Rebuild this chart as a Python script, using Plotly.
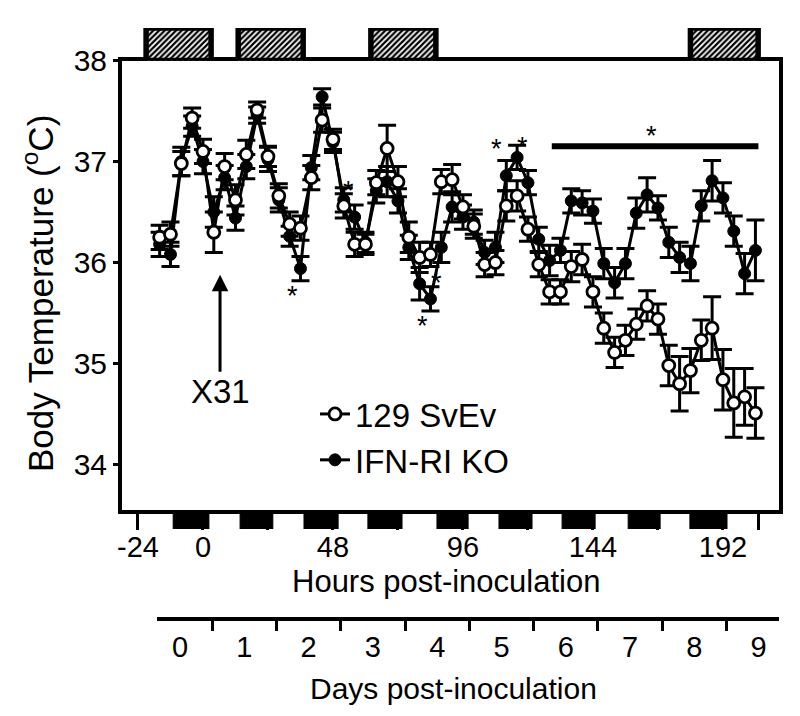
import plotly.graph_objects as go

# ---------------- data ----------------
hours = [-16, -12, -8, -4, 0, 4, 8, 12, 16, 20, 24, 28, 32, 36, 40, 44,
         48, 52, 56, 60, 64, 68, 72, 76, 80, 84, 88, 92, 96, 100, 104, 108,
         112, 116, 120, 124, 128, 132, 136, 140, 144, 148, 152, 156, 160, 164,
         168, 172, 176, 180, 184, 188, 192, 196, 200, 204]

svev = [36.25, 36.28, 36.98, 37.43, 37.10, 36.30, 36.95, 36.62,
        37.07, 37.51, 37.05, 36.66, 36.38, 36.34, 36.84, 37.41,
        37.22, 36.56, 36.18, 36.18, 36.79, 37.13, 36.80, 36.25,
        36.05, 36.08, 36.80, 36.82, 36.55, 36.36, 35.98, 36.00,
        36.56, 36.66, 36.33, 35.98, 35.71, 35.71, 35.96, 36.03,
        35.71, 35.35, 35.11, 35.23, 35.39, 35.57, 35.44, 34.98,
        34.80, 34.93, 35.23, 35.35, 34.84, 34.61, 34.67, 34.51]
svev_err = [0.12, 0.12, 0.12, 0.10, 0.12, 0.20, 0.13, 0.15,
            0.14, 0.08, 0.10, 0.12, 0.12, 0.12, 0.12, 0.12,
            0.10, 0.12, 0.12, 0.10, 0.12, 0.23, 0.15, 0.15,
            0.15, 0.12, 0.12, 0.15, 0.12, 0.12, 0.12, 0.12,
            0.15, 0.15, 0.12, 0.12, 0.12, 0.12, 0.15, 0.15,
            0.15, 0.15, 0.15, 0.15, 0.15, 0.15, 0.15, 0.20,
            0.27, 0.22, 0.20, 0.31, 0.30, 0.34, 0.28, 0.25]

ko = [36.18, 36.08, 37.00, 37.35, 37.00, 36.50, 36.84, 36.44,
      36.95, 37.46, 37.02, 36.62, 36.26, 35.94, 36.94, 37.64,
      37.19, 36.62, 36.45, 36.20, 36.71, 36.80, 36.61, 36.15,
      35.79, 35.64, 36.15, 36.55, 36.45, 36.40, 36.10, 36.15,
      36.86, 37.04, 36.79, 36.23, 36.02, 36.12, 36.61, 36.59,
      36.51, 35.99, 35.80, 35.99, 36.49, 36.67, 36.54, 36.20,
      36.05, 35.99, 36.56, 36.81, 36.64, 36.31, 35.89, 36.12]
ko_err = [0.12, 0.12, 0.14, 0.10, 0.12, 0.15, 0.12, 0.12,
          0.12, 0.08, 0.12, 0.12, 0.10, 0.12, 0.12, 0.08,
          0.10, 0.12, 0.12, 0.10, 0.12, 0.15, 0.12, 0.12,
          0.16, 0.12, 0.15, 0.15, 0.12, 0.12, 0.12, 0.15,
          0.15, 0.12, 0.12, 0.12, 0.15, 0.12, 0.12, 0.12,
          0.12, 0.15, 0.15, 0.15, 0.15, 0.17, 0.12, 0.15,
          0.15, 0.17, 0.15, 0.20, 0.15, 0.15, 0.20, 0.30]

# hatched periods (top) and dark phases (bottom), in hours
hatch_start = [-21, 13, 62, 180]
hatch_end = [3, 37, 86, 205]
dark_start = [-11, 13.7, 37.3, 60.9, 86.4, 109.3, 132.6, 157, 179.8]
dark_end = [2.2, 25.8, 49.9, 73.5, 97.9, 121.5, 144.8, 168.8, 193.5]

hour_ticks = [-24, 0, 48, 96, 144, 192]
hour_labels = ["-24", "0", "48", "96", "144", "192"]
hour_minor_ticks = [24, 72, 120, 168, 205]
days = [0, 1, 2, 3, 4, 5, 6, 7, 8, 9]
day_labels = ["0", "1", "2", "3", "4", "5", "6", "7", "8", "9"]
day_bounds = [0.5, 1.5, 2.5, 3.5, 4.5, 5.5, 6.5, 7.5, 8.5]

# significance markers (hour, temperature)
star_pts = [(33, 35.73), (53.6, 36.77), (81.2, 35.43), (86.3, 35.86),
            (108.2, 37.18), (118, 37.2), (165.7, 37.31)]
sig_bar = (128.8, 205.1, 37.15)

# ---------------- layout geometry ----------------
W, H = 800, 716
ML, MR, MT, MB = 122, 21, 28, 98
PW, PH = W - ML - MR, H - MT - MB


def px(x):
    return (x - ML) / PW


def py(y):
    return (H - MB - y) / PH


FONT = "Liberation Sans, Arial, sans-serif"

fig = go.Figure()

# top hatched periods
fig.add_trace(go.Bar(
    x=[(s + e) / 2 for s, e in zip(hatch_start, hatch_end)],
    y=[1] * len(hatch_start), base=0,
    width=[e - s for s, e in zip(hatch_start, hatch_end)],
    xaxis="x", yaxis="y3", showlegend=False, hoverinfo="skip", cliponaxis=False,
    marker=dict(color="white", line=dict(color="black", width=5.5),
                pattern=dict(shape="/", fgcolor="black", bgcolor="white",
                             size=4, solidity=0.55)),
))
# dark phases
fig.add_trace(go.Bar(
    x=[(s + e) / 2 for s, e in zip(dark_start, dark_end)],
    y=[1] * len(dark_start), base=0,
    width=[e - s for s, e in zip(dark_start, dark_end)],
    xaxis="x", yaxis="y4", showlegend=False, hoverinfo="skip", cliponaxis=False,
    marker=dict(color="black", line=dict(color="black", width=1)),
))

# dummy trace so the days axis is drawn
fig.add_trace(go.Scatter(x=[None], y=[None], xaxis="x2", yaxis="y",
                         showlegend=False, hoverinfo="skip"))

fig.add_trace(go.Scatter(
    x=hours, y=ko, name="IFN-RI KO", mode="lines+markers", legendgroup="ko",
    line=dict(color="black", width=3),
    marker=dict(symbol="circle", size=12, color="black",
                line=dict(color="black", width=1)),
    error_y=dict(type="data", array=ko_err, color="black", thickness=3, width=9),
    cliponaxis=False,
))
fig.add_trace(go.Scatter(
    x=hours, y=svev, name="129 SvEv", mode="lines+markers", legendgroup="sv",
    line=dict(color="black", width=3),
    marker=dict(symbol="circle", size=12, color="white",
                line=dict(color="black", width=2.8)),
    error_y=dict(type="data", array=svev_err, color="black", thickness=3, width=9),
    cliponaxis=False,
))

annotations = []
# X31 arrow
annotations.append(dict(x=6.3, y=35.88, xref="x", yref="y", text="X31",
                        showarrow=True, ax=0, ay=117, arrowhead=2,
                        arrowsize=1.1, arrowwidth=3, arrowcolor="black",
                        font=dict(size=33, color="black", family=FONT)))
for sx, sy in star_pts:
    annotations.append(dict(x=sx, y=sy, xref="x", yref="y", text="*",
                            showarrow=False, yshift=-6,
                            xanchor="center", yanchor="middle",
                            font=dict(size=27, color="black", family=FONT)))
# titles
annotations.append(dict(x=px(446), y=py(581), xref="paper", yref="paper",
                        xanchor="center", yanchor="middle",
                        text="Hours post-inoculation", showarrow=False,
                        font=dict(size=31, color="black", family=FONT)))
annotations.append(dict(x=px(453), y=py(688), xref="paper", yref="paper",
                        xanchor="center", yanchor="middle",
                        text="Days post-inoculation", showarrow=False,
                        font=dict(size=30, color="black", family=FONT)))
annotations.append(dict(x=px(38), y=py(294), xref="paper", yref="paper",
                        xanchor="center", yanchor="middle",
                        text="Body Temperature (<sup>o</sup>C)", textangle=-90,
                        showarrow=False,
                        font=dict(size=35, color="black", family=FONT)))

shapes = [dict(type="line", xref="x", yref="y", x0=sig_bar[0], x1=sig_bar[1],
               y0=sig_bar[2], y1=sig_bar[2], opacity=1,
               line=dict(color="black", width=6))]

fig.update_layout(
    template="none",
    width=W, height=H,
    margin=dict(l=ML, r=MR, t=MT, b=MB, autoexpand=False),
    paper_bgcolor="white", plot_bgcolor="rgba(0,0,0,0)",
    font=dict(family=FONT, color="black", size=29),
    barmode="overlay",
    showlegend=True,
    legend=dict(x=px(315), y=py(386), xanchor="left", yanchor="top",
                traceorder="reversed", bgcolor="rgba(0,0,0,0)",
                font=dict(size=33, family=FONT, color="black"),
                itemwidth=30, tracegroupgap=8),
    xaxis=dict(range=[-29.9, 212.7], domain=[0, 1], anchor="y", automargin=False,
               showline=True, linecolor="black", linewidth=4, mirror=True,
               showgrid=False, zeroline=False,
               tickmode="array", tickvals=hour_ticks, ticktext=hour_labels,
               ticks="outside", ticklen=16, tickwidth=3, tickcolor="black",
               ticklabelstandoff=-8,
               tickfont=dict(size=29, family=FONT, color="black"),
               minor=dict(tickmode="array", tickvals=hour_minor_ticks,
                          ticks="outside", ticklen=16, tickwidth=3,
                          tickcolor="black", showgrid=False)),
    yaxis=dict(range=[33.55, 38], domain=[py(510), py(60.5)], anchor="x",
               automargin=False,
               showline=True, linecolor="black", linewidth=4, mirror=True,
               showgrid=False, zeroline=False,
               tickmode="array", tickvals=[34, 35, 36, 37, 38],
               ticks="outside", ticklen=5, tickwidth=3, tickcolor="black",
               tickfont=dict(size=30, family=FONT, color="black")),
    xaxis2=dict(range=[-0.358, 9.316], domain=[px(157), 1], anchor="free",
                position=0, automargin=False,
                showline=True, linecolor="black", linewidth=3.5,
                showgrid=False, zeroline=False,
                tickmode="array", tickvals=days, ticktext=day_labels,
                ticks="", ticklabelstandoff=2,
                tickfont=dict(size=29, family=FONT, color="black"),
                minor=dict(tickmode="array", tickvals=day_bounds, ticks="outside",
                           ticklen=10, tickwidth=3, tickcolor="black",
                           showgrid=False)),
    yaxis3=dict(domain=[py(60.5), 1], range=[0, 1], anchor="x", visible=False,
                fixedrange=True, automargin=False),
    yaxis4=dict(domain=[py(529), py(513)], range=[0, 1], anchor="x",
                visible=False, fixedrange=True, automargin=False),
    annotations=annotations,
    shapes=shapes,
)

post = ("document.body.style.margin='0px';"
        "document.body.style.overflow='hidden';"
        "Plotly.relayout('{plot_id}', {width: 800, height: 716});")
fig.write_html("out.html", post_script=post,
               config={"displayModeBar": False, "staticPlot": True})
